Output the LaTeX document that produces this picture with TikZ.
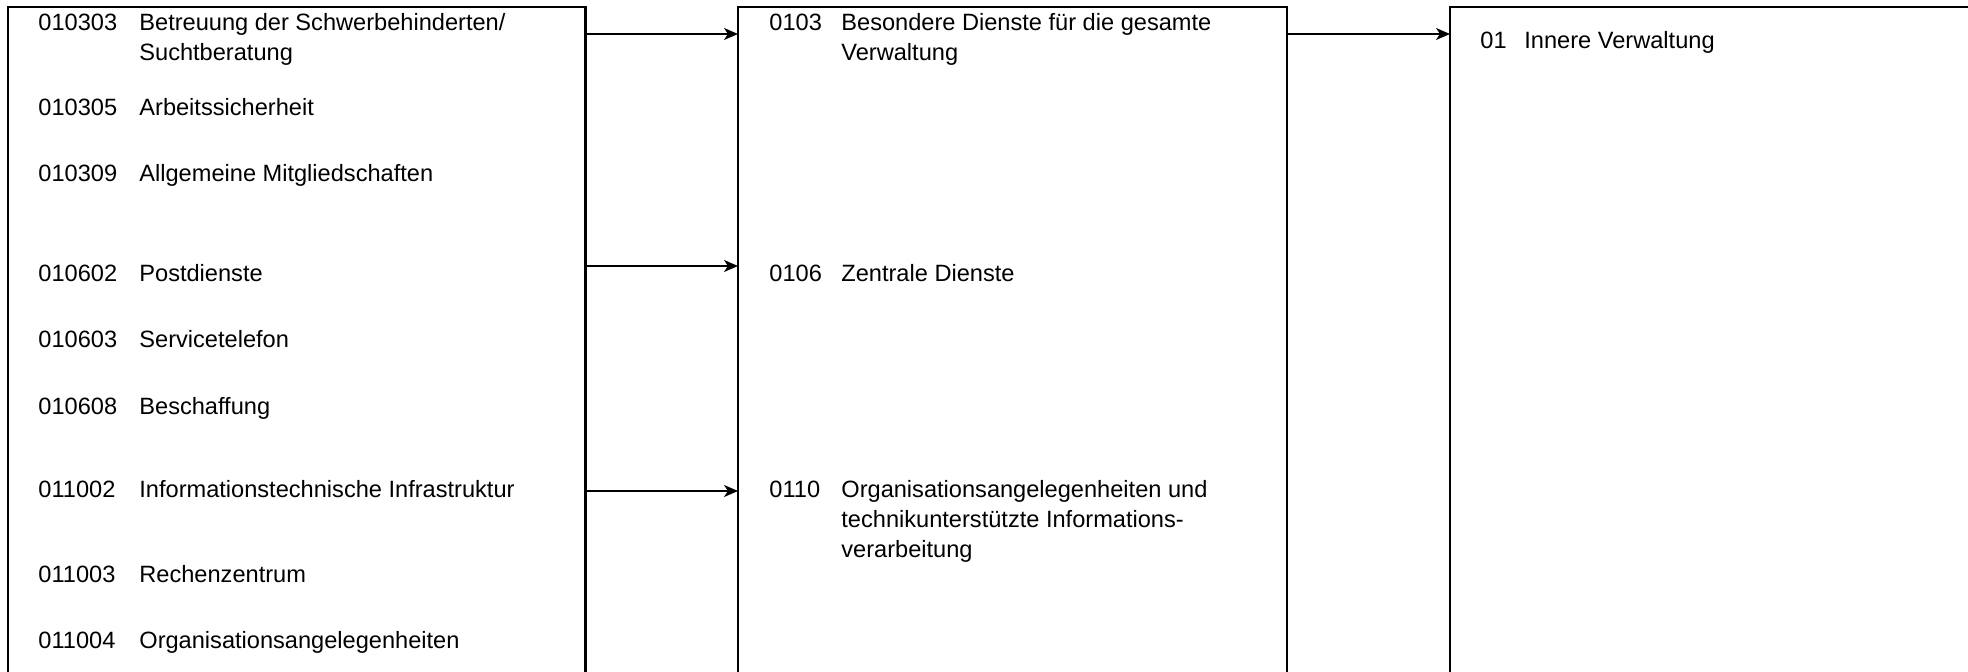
\documentclass[tikz,border=0pt]{standalone}
\usepackage{fontspec}
\setmainfont{Liberation Sans}
\usetikzlibrary{arrows.meta,positioning}

\begin{document}
\begin{tikzpicture}[x=0.5pt,y=-0.5pt]
  \tikzset{
    colbox/.style={draw, line width=1.25pt, inner sep=0pt, outer sep=0pt, minimum height=360pt, anchor=north west},
    num/.style={inner sep=0pt, anchor=base west, font=\fontsize{11.8}{15}\selectfont},
    entry/.style={num, align=left},
    flow/.style={-{Stealth[length=7pt, width=6pt, inset=2pt]}, line width=0.8pt}
  }
  \useasboundingbox (0,0) rectangle (1968,672);
  \clip (0,0) rectangle (1968,672);

  % the three levels
  \node[colbox, minimum width=288.75pt] (produkte) at (8,7) {};
  \node[colbox, right=76.25pt of produkte.north east, anchor=north west, minimum width=274.5pt] (gruppen) {};
  \node[colbox, right=81.5pt of gruppen.north east, anchor=north west, minimum width=300pt] (bereich) {};

  % Produkte (multi-line entries sit on the baseline of their last line)
  \node[num] (n010303) at (38,31) {010303};
  \node[entry] (t010303) at (139,61) {Betreuung der Schwerbehinderten/\\Suchtberatung};
  \foreach \y/\nr/\txt in {116/010305/Arbeitssicherheit, 182/010309/Allgemeine Mitgliedschaften,
      282/010602/Postdienste, 348/010603/Servicetelefon, 415/010608/Beschaffung,
      498/011002/Informationstechnische Infrastruktur, 582/011003/Rechenzentrum,
      648/011004/Organisationsangelegenheiten} {
    \node[num] (n\nr) at (38,\y) {\nr};
    \node[num] (t\nr) at (139,\y) {\txt};
  }

  % Produktgruppen
  \node[num] (n0103) at (769,31) {0103};
  \node[entry] (t0103) at (841,61) {Besondere Dienste für die gesamte\\Verwaltung};
  \node[num] (n0106) at (769,282) {0106};
  \node[num] (t0106) at (841,282) {Zentrale Dienste};
  \node[num] (n0110) at (769,498) {0110};
  \node[entry] (t0110) at (841,558) {Organisationsangelegenheiten und\\technikunterstützte Informations-\\verarbeitung};

  % Produktbereich
  \node[num] (n01) at (1480,49) {01};
  \node[num] (t01) at (1524,49) {Innere Verwaltung};

  \draw[flow] ([yshift=-13.5pt]produkte.north east) -- ([yshift=-13.5pt]gruppen.north west);
  \draw[flow] ([yshift=-129.5pt]produkte.north east) -- ([yshift=-129.5pt]gruppen.north west);
  \draw[flow] ([yshift=-242pt]produkte.north east) -- ([yshift=-242pt]gruppen.north west);
  \draw[flow] ([yshift=-13.5pt]gruppen.north east) -- ([yshift=-13.5pt]bereich.north west);
\end{tikzpicture}
\end{document}
